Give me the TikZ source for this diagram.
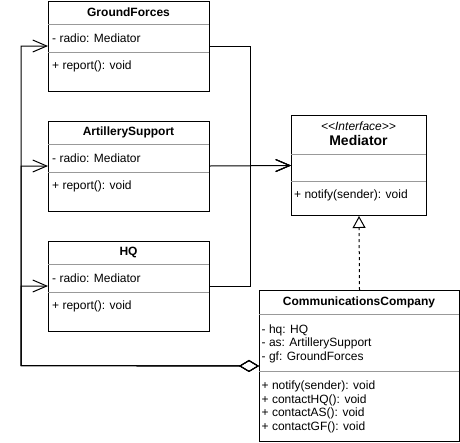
\documentclass[tikz,border=0pt]{standalone}
\usepackage{fontspec}
\setmainfont{Liberation Sans}
\newfontfamily\stfont[Ligatures=TeXOff]{Liberation Sans}
\usetikzlibrary{arrows.meta}
\begin{document}
\begin{tikzpicture}[x=1pt,y=-1pt,
  font=\fontsize{12}{14}\selectfont,
  box/.style={draw, line width=1pt, inner sep=0pt, anchor=north west},
  sep/.style={draw=gray!80, line width=0.8pt},
  txt/.style={anchor=west, inner sep=0pt},
  ttl/.style={inner sep=0pt, font=\fontsize{12}{14}\selectfont\bfseries},
  wire/.style={line width=1pt},
  opentip/.style={wire, -{Straight Barb[length=14pt,width=12pt,line width=1pt]}},
  aggr/.style={wire, {Diamond[open,length=20pt,width=12pt,line width=1pt]}-{Straight Barb[length=14pt,width=12pt,line width=1pt]}},
  realize/.style={wire, dash pattern=on 3pt off 3pt, -{Triangle[open,length=12pt,width=13pt,line width=1pt]}}
]
\useasboundingbox (0,0) rectangle (460,442);

% GroundForces
\node[box, minimum width=161pt, minimum height=90pt] (gf) at (48,0.5) {};
\node[ttl] (gft) at (128.5,12) {GroundForces};
\draw[sep] (48,24.5) -- (209,24.5);
\node[txt] (gfa) at (52,38) {- radio: Mediator};
\draw[sep] (48,52.5) -- (209,52.5);
\node[txt] (gfm) at (52,66) {+ report(): void};

% ArtillerySupport
\node[box, minimum width=161pt, minimum height=90pt] (as) at (48,120.5) {};
\node[ttl] (ast) at (128.5,132) {ArtillerySupport};
\draw[sep] (48,144.5) -- (209,144.5);
\node[txt] (asa) at (52,158) {- radio: Mediator};
\draw[sep] (48,172.5) -- (209,172.5);
\node[txt] (asm) at (52,186) {+ report(): void};

% HQ
\node[box, minimum width=161pt, minimum height=90pt] (hq) at (48,240.5) {};
\node[ttl] (hqt) at (128.5,252) {HQ};
\draw[sep] (48,264.5) -- (209,264.5);
\node[txt] (hqa) at (52,278) {- radio: Mediator};
\draw[sep] (48,292.5) -- (209,292.5);
\node[txt] (hqm) at (52,306) {+ report(): void};

% Mediator
\node[box, minimum width=135pt, minimum height=100pt] (med) at (291,115) {};
\node[inner sep=0pt, font=\stfont\fontsize{12}{14}\selectfont\itshape] (medst) at (358.5,126) {<<Interface>>};
\node[ttl, font=\fontsize{14}{16}\selectfont\bfseries] (medt) at (358.5,140.5) {Mediator};
\draw[sep] (291,154.5) -- (426,154.5);
\draw[sep] (291,181.5) -- (426,181.5);
\node[txt] (medm) at (294,195) {+ notify(sender): void};

% CommunicationsCompany
\node[box, minimum width=200pt, minimum height=151pt] (cc) at (259,290) {};
\node[ttl] (cct) at (359,302) {CommunicationsCompany};
\draw[sep] (259,314.5) -- (459,314.5);
\node[txt] (cca1) at (261.5,330) {- hq: HQ};
\node[txt] (cca2) at (261.5,343.5) {- as: ArtillerySupport};
\node[txt] (cca3) at (261.5,357) {- gf: GroundForces};
\draw[sep] (259,371.5) -- (459,371.5);
\node[txt] (ccm1) at (261.5,386) {+ notify(sender): void};
\node[txt] (ccm2) at (261.5,400) {+ contactHQ(): void};
\node[txt] (ccm3) at (261.5,413.5) {+ contactAS(): void};
\node[txt] (ccm4) at (261.5,427) {+ contactGF(): void};

% routing points
\coordinate (lft) at (21,365.5);
\coordinate (mid) at (250,165.5);

% associations to Mediator
\draw[opentip] (gf.east) -| (mid) -- (med.west);
\draw[opentip] (hq.east) -| (mid) -- (med.west);
\draw[opentip] (as.east) -- (med.west);

% aggregations from CommunicationsCompany
\draw[aggr] (cc.west) -- (lft) |- (gf.west);
\draw[aggr] (cc.west) -- (lft) |- (as.west);
\draw[aggr] (cc.west) -- (lft) |- (hq.west);

% realization
\draw[realize] (cc.north) -- (med.south);
\end{tikzpicture}
\end{document}
